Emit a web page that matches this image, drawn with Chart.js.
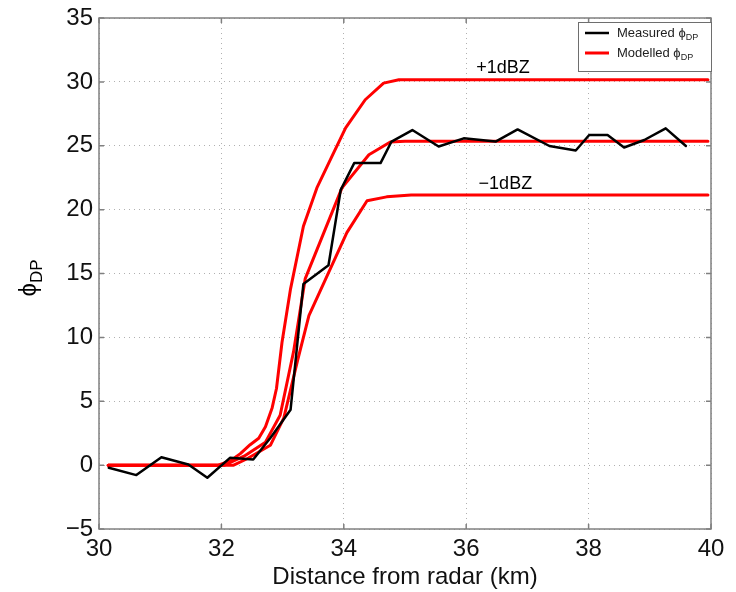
<!DOCTYPE html>
<html>
<head>
<meta charset="utf-8">
<script src="https://cdn.jsdelivr.net/npm/chart.js@4.4.0/dist/chart.umd.min.js"></script>
<style>
    html, body { margin: 0; padding: 0; background: #fff; }
    canvas { display: block; }
</style>
</head>
<body>
<canvas id="phiChart" width="736" height="592"></canvas>
<script>
// measured phi_DP along the ray
const measuredX = [30.16, 30.61, 31.02, 31.46, 31.77, 32.14, 32.52, 32.8, 33.13, 33.34, 33.75, 33.95, 34.17, 34.6,
    34.78, 35.12, 35.55, 35.96, 36.48, 36.84, 37.36, 37.79, 38.01, 38.31, 38.58, 38.91, 39.26, 39.59];
const measuredY = [-0.21, -0.78, 0.62, 0.05, -0.99, 0.57, 0.44, 2.12, 4.33, 14.18, 15.65, 21.56, 23.64, 23.64,
    25.33, 26.23, 24.94, 25.58, 25.33, 26.28, 24.98, 24.63, 25.84, 25.84, 24.86, 25.45, 26.36, 24.98];

// modelled phi_DP, +1dBZ / 0 / -1dBZ
const upperX = [30.15, 31.95, 32.15, 32.31, 32.47, 32.61, 32.72, 32.83, 32.9, 32.99, 33.13, 33.34, 33.56, 33.81,
    34.03, 34.35, 34.65, 34.9, 39.95];
const upperY = [0, 0, 0.35, 0.9, 1.6, 2.1, 3.0, 4.5, 6.0, 9.6, 13.8, 18.7, 21.7, 24.2, 26.4, 28.6, 29.9, 30.17, 30.17];
const modelX = [30.15, 32.05, 32.37, 32.72, 32.96, 33.18, 33.37, 33.97, 34.41, 34.76, 35.0, 39.95];
const modelY = [0, 0, 0.7, 1.8, 3.9, 8.9, 14.6, 21.7, 24.3, 25.3, 25.35, 25.35];
const lowerX = [30.15, 32.2, 32.42, 32.8, 33.02, 33.24, 33.43, 34.05, 34.38, 34.7, 35.1, 39.95];
const lowerY = [0, 0, 0.5, 1.55, 3.7, 8.1, 11.7, 18.2, 20.7, 21.0, 21.15, 21.15];

const xTicks = [30, 32, 34, 36, 38, 40];
const yTicks = [-5, 0, 5, 10, 15, 20, 25, 30, 35];

const FONT = "'Liberation Sans', Arial, sans-serif";
const PHI = "\u03d5";

function toPoints(xs, ys) {
    return xs.map(function (x, i) { return { x: x, y: ys[i] }; });
}

function lineSet(label, xs, ys, color, width) {
    return {
        label: label,
        data: toPoints(xs, ys),
        borderColor: color,
        backgroundColor: color,
        borderWidth: width,
        pointRadius: 0,
        showLine: true,
        tension: 0,
        borderJoinStyle: "round",
        borderCapStyle: "round"
    };
}

// frame, inward ticks, labels, legend and y title in matlab style
const matlabDecor = {
    id: "matlabDecor",
    afterDatasetsDraw: function (chart) {
        const ctx = chart.ctx;
        const a = chart.chartArea;
        const xs = chart.scales.x, ys = chart.scales.y;
        ctx.save();

        ctx.strokeStyle = "#808080";
        ctx.lineWidth = 1.5;
        ctx.strokeRect(a.left, a.top, a.right - a.left, a.bottom - a.top);
        ctx.beginPath();
        xTicks.forEach(function (v) {
            const px = xs.getPixelForValue(v);
            ctx.moveTo(px, a.bottom); ctx.lineTo(px, a.bottom - 5);
            ctx.moveTo(px, a.top); ctx.lineTo(px, a.top + 5);
        });
        yTicks.forEach(function (v) {
            const py = ys.getPixelForValue(v);
            ctx.moveTo(a.left, py); ctx.lineTo(a.left + 5, py);
            ctx.moveTo(a.right, py); ctx.lineTo(a.right - 5, py);
        });
        ctx.stroke();

        // curve labels
        ctx.fillStyle = "#000";
        ctx.font = "18px " + FONT;
        ctx.textAlign = "center";
        ctx.textBaseline = "alphabetic";
        ctx.fillText("+1dBZ", xs.getPixelForValue(36.6), ys.getPixelForValue(30.7));
        ctx.fillText("\u22121dBZ", xs.getPixelForValue(36.64), ys.getPixelForValue(21.6));

        // legend
        const lx = 578, ly = 22, lw = 133, lh = 49;
        ctx.fillStyle = "#fff";
        ctx.fillRect(lx, ly, lw, lh);
        ctx.strokeStyle = "#6e6e6e";
        ctx.lineWidth = 1;
        ctx.strokeRect(lx + 0.5, ly + 0.5, lw, lh);
        const entries = [chart.data.datasets[0], chart.data.datasets[1]];
        entries.forEach(function (ds, i) {
            const y = ly + 11 + i * 20;
            ctx.strokeStyle = ds.borderColor;
            ctx.lineWidth = ds.borderWidth;
            ctx.beginPath();
            ctx.moveTo(lx + 7, y); ctx.lineTo(lx + 31, y);
            ctx.stroke();
            const parts = ds.label.split("_");
            ctx.fillStyle = "#222";
            ctx.textAlign = "left";
            ctx.textBaseline = "middle";
            ctx.font = "13px " + FONT;
            ctx.fillText(parts[0], lx + 39, y);
            const w = ctx.measureText(parts[0]).width;
            ctx.font = "9px " + FONT;
            ctx.fillText(parts[1], lx + 39 + w, y + 5);
        });

        // y title: phi with DP subscript
        ctx.translate(36, 278);
        ctx.rotate(-Math.PI / 2);
        ctx.fillStyle = "#000";
        ctx.textAlign = "left";
        ctx.textBaseline = "alphabetic";
        ctx.font = "24px " + FONT;
        const pw = ctx.measureText(PHI).width;
        ctx.font = "17px " + FONT;
        const sw = ctx.measureText("DP").width;
        const start = -(pw + sw) / 2;
        ctx.font = "24px " + FONT;
        ctx.fillText(PHI, start, 0);
        ctx.font = "17px " + FONT;
        ctx.fillText("DP", start + pw, 6);
        ctx.restore();
    }
};

document.addEventListener("DOMContentLoaded", function () {
    const ctx = document.getElementById("phiChart").getContext("2d");

    new Chart(ctx, {
        type: "scatter",
        data: {
            datasets: [
                lineSet("Measured " + PHI + "_DP", measuredX, measuredY, "#000000", 2.5),
                lineSet("Modelled " + PHI + "_DP", upperX, upperY, "#ff0000", 3),
                lineSet("Modelled 0dBZ", modelX, modelY, "#ff0000", 3),
                lineSet("Modelled -1dBZ", lowerX, lowerY, "#ff0000", 3)
            ]
        },
        options: {
            responsive: false,
            animation: false,
            devicePixelRatio: 1,
            layout: { padding: { left: 0, right: 25, top: 13, bottom: 0 } },
            plugins: {
                legend: { display: false },
                tooltip: { enabled: false }
            },
            scales: {
                x: {
                    type: "linear",
                    min: 30,
                    max: 40,
                    afterBuildTicks: function (s) { s.ticks = xTicks.map(function (v) { return { value: v }; }); },
                    afterFit: function (s) { s.height = 63; },
                    grid: { color: "#b0b0b0", lineWidth: 1, drawTicks: false },
                    border: { display: false, dash: [1, 4] },
                    ticks: {
                        padding: 6,
                        color: "#111",
                        font: { family: FONT, size: 24 },
                        maxRotation: 0
                    },
                    title: {
                        display: true,
                        text: "Distance from radar (km)",
                        color: "#111",
                        font: { family: FONT, size: 24, lineHeight: 1.1 },
                        padding: { top: 0, bottom: 1 }
                    }
                },
                y: {
                    type: "linear",
                    min: -5,
                    max: 35,
                    afterBuildTicks: function (s) { s.ticks = yTicks.map(function (v) { return { value: v }; }); },
                    afterFit: function (s) { s.width = 99; },
                    grid: { color: "#b0b0b0", lineWidth: 1, drawTicks: false },
                    border: { display: false, dash: [1, 4] },
                    ticks: {
                        padding: 6,
                        color: "#111",
                        font: { family: FONT, size: 24, lineHeight: 1 },
                        callback: function (v) { return String(v).replace("-", "\u2212"); }
                    }
                }
            }
        },
        plugins: [matlabDecor]
    });
});
</script>
</body>
</html>
